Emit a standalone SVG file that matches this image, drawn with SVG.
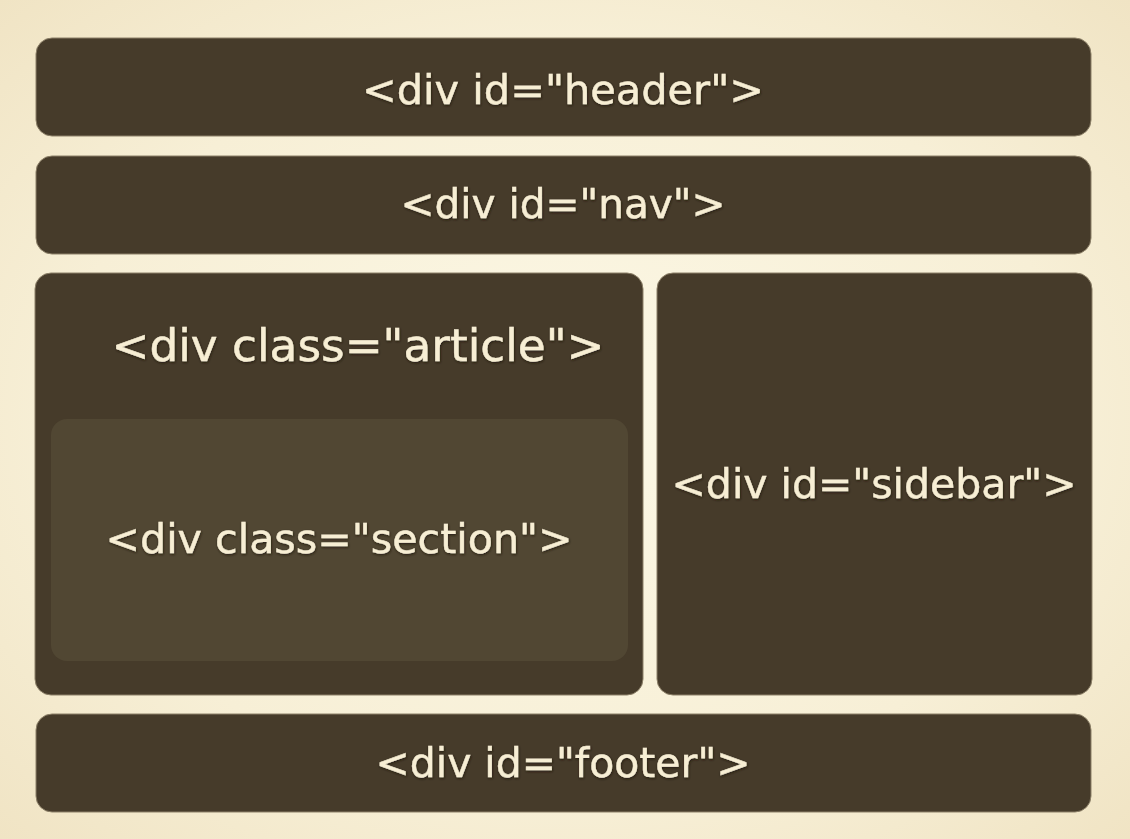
<svg xmlns="http://www.w3.org/2000/svg" width="1130" height="839" viewBox="0 0 1130 839">
  <defs>
    <radialGradient id="bg" cx="0.5" cy="0.5" r="0.75">
      <stop offset="0" stop-color="#fcf8e6"/>
      <stop offset="0.6" stop-color="#f7efd6"/>
      <stop offset="1" stop-color="#efe2c1"/>
    </radialGradient>
    <filter id="txtShadow" x="-5%" y="-20%" width="110%" height="140%">
      <feDropShadow dx="0.6" dy="1.2" stdDeviation="0.8" flood-color="#1c160d" flood-opacity="0.85"/>
    </filter>
  </defs>
  <style>
    .box { fill: #463b2a; stroke: #8c8068; stroke-width: 1; }
    .inner { fill: #514733; }
    .label { fill: #f7eed4; stroke: #f7eed4; stroke-width: 0.4; font-family: "DejaVu Sans", "Liberation Sans", sans-serif; font-size: 41px; text-anchor: middle; filter: url(#txtShadow); }
    .big { font-size: 44px; }
  </style>

  <rect width="1130" height="839" fill="url(#bg)"/>

  <g id="header">
    <rect class="box" x="36" y="38" width="1055" height="98" rx="16"/>
    <text class="label" x="563" y="104" textLength="402" lengthAdjust="spacingAndGlyphs">&lt;div id=&quot;header&quot;&gt;</text>
  </g>

  <g id="nav">
    <rect class="box" x="36" y="156" width="1055" height="98" rx="16"/>
    <text class="label" x="563" y="218" textLength="325" lengthAdjust="spacingAndGlyphs">&lt;div id=&quot;nav&quot;&gt;</text>
  </g>

  <g id="article">
    <rect class="box" x="35" y="273" width="608" height="422" rx="16"/>
    <text class="label big" x="358" y="361" textLength="493" lengthAdjust="spacingAndGlyphs">&lt;div class=&quot;article&quot;&gt;</text>
  </g>

  <g id="section">
    <rect class="inner" x="51" y="419" width="577" height="242" rx="16"/>
    <text class="label" x="339" y="553" textLength="467" lengthAdjust="spacingAndGlyphs">&lt;div class=&quot;section&quot;&gt;</text>
  </g>

  <g id="sidebar">
    <rect class="box" x="657" y="273" width="435" height="422" rx="16"/>
    <text class="label" x="874" y="498" textLength="405" lengthAdjust="spacingAndGlyphs">&lt;div id=&quot;sidebar&quot;&gt;</text>
  </g>

  <g id="footer">
    <rect class="box" x="36" y="714" width="1055" height="98" rx="16"/>
    <text class="label" x="563" y="777" textLength="375" lengthAdjust="spacingAndGlyphs">&lt;div id=&quot;footer&quot;&gt;</text>
  </g>

  <g id="connectors"/>
</svg>
